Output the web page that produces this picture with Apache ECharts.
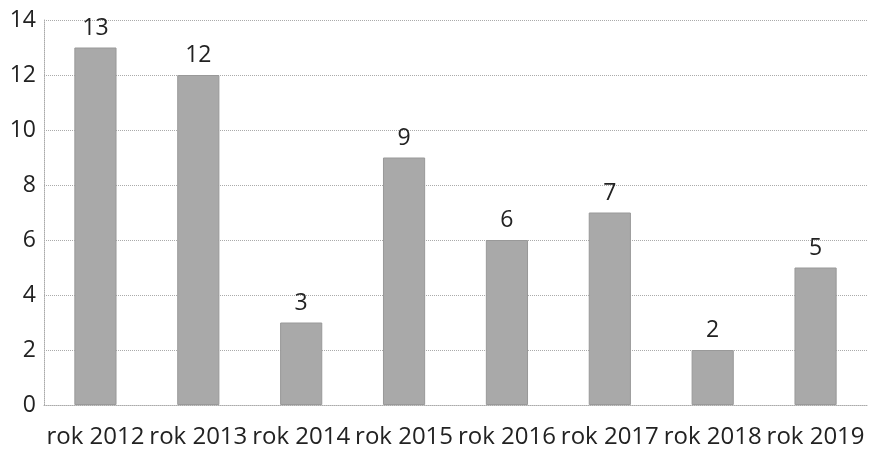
<!DOCTYPE html>
<html><head><meta charset="utf-8">
<script src="https://cdn.jsdelivr.net/npm/echarts@6/dist/echarts.min.js"></script>
<style>html,body{margin:0;padding:0;background:#fff}#c{width:869px;height:450px}</style>
</head><body><div id="c"></div>
<script>
const categories = ['rok 2012','rok 2013','rok 2014','rok 2015','rok 2016','rok 2017','rok 2018','rok 2019'];
const values = [13,12,3,9,6,7,2,5];
const yTicks = {min:0, max:14, interval:2};
const chart = echarts.init(document.getElementById('c'));
const font = '"Open Sans", "Noto Sans", sans-serif';
chart.setOption({
  animation:false,
  grid:{left:44,right:2,top:20,bottom:45},
  xAxis:{type:'category',data:categories,
    axisLine:{show:true,lineStyle:{color:'#aaa',type:'dotted'}},
    axisTick:{show:false},
    axisLabel:{color:'#222',fontSize:24,fontFamily:font,margin:20,interval:0}},
  yAxis:{type:'value',min:yTicks.min,max:yTicks.max,interval:yTicks.interval,
    axisLine:{show:true,lineStyle:{color:'#aaa',type:'dotted'}},
    axisTick:{show:false},
    splitLine:{lineStyle:{color:'#aaa',type:'dotted'}},
    axisLabel:{color:'#222',fontSize:23,fontFamily:font,margin:8}},
  series:[{type:'bar',data:values,barWidth:'41%',
    itemStyle:{color:'#a9a9a9',borderColor:'#999',borderWidth:1},
    label:{show:true,position:'top',distance:8,color:'#222',fontSize:23,fontFamily:font}}]
});
</script></body></html>
